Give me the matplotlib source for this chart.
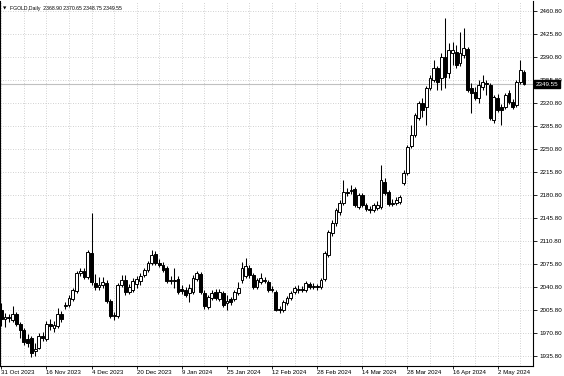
import matplotlib
matplotlib.use("Agg")
import matplotlib.pyplot as plt
import numpy as np
from matplotlib.transforms import blended_transform_factory

plt.rcParams['font.family'] = ['Liberation Sans', 'DejaVu Sans']

symbol = "FGOLD,Daily"

opens = [
    2005.5, 1991.7, 1994.8, 1990.2, 1999.4, 1984.1, 1975.0, 1961.3, 1962.8, 1943.0,
    1947.6, 1965.8, 1961.3, 1984.1, 1978.0, 1981.1, 1999.4, 2011.6, 2013.1, 2022.2,
    2034.4, 2061.9, 2064.9, 2055.8, 2092.4, 2046.6, 2040.5, 2043.6, 2046.6, 2019.2,
    1996.3, 1996.3, 2043.6, 2051.2, 2032.9, 2036.0, 2045.1, 2049.7, 2058.8, 2066.4,
    2077.1, 2090.8, 2077.1, 2074.1, 2069.5, 2049.7, 2051.2, 2052.7, 2037.5, 2036.0,
    2031.4, 2032.9, 2052.7, 2060.3, 2031.4, 2010.1, 2023.7, 2032.9, 2022.2, 2031.4,
    2016.1, 2022.2, 2022.2, 2031.4, 2051.2, 2057.3, 2069.5, 2058.8, 2040.5, 2048.2,
    2051.2, 2048.2, 2037.5, 2032.9, 2007.0, 2005.5, 2016.1, 2023.7, 2032.9, 2036.0,
    2037.5, 2036.0, 2045.1, 2040.5, 2042.1, 2040.5, 2052.7, 2089.3, 2122.8, 2138.1,
    2154.8, 2168.6, 2185.3, 2186.9, 2189.9, 2162.5, 2180.8, 2165.5, 2157.9, 2157.9,
    2161.0, 2162.5, 2200.6, 2185.3, 2167.1, 2168.6, 2170.1, 2199.0, 2214.3, 2255.4,
    2272.2, 2298.2, 2321.0, 2314.9, 2343.9, 2356.1, 2374.4, 2359.1, 2391.1, 2366.7,
    2397.2, 2398.7, 2382.0, 2394.2, 2403.3, 2343.9, 2337.8, 2328.6, 2345.4, 2351.5,
    2348.4, 2295.1, 2328.6, 2314.9, 2314.9, 2336.3, 2322.5, 2318.0, 2353.0, 2368.90,
]
highs = [
    2016.1, 2000.9, 1999.4, 2011.6, 2002.4, 1987.2, 1978.0, 1968.9, 1965.8, 1955.2,
    1970.4, 1971.9, 1988.7, 1991.7, 1988.7, 2008.5, 2003.9, 2017.7, 2028.3, 2039.0,
    2064.9, 2069.5, 2069.5, 2096.9, 2153.3, 2060.3, 2055.8, 2055.8, 2051.2, 2022.2,
    2002.4, 2046.6, 2058.8, 2058.8, 2045.1, 2054.2, 2057.3, 2061.9, 2069.5, 2080.1,
    2096.9, 2095.4, 2083.2, 2078.6, 2072.5, 2057.3, 2069.5, 2057.3, 2043.6, 2040.5,
    2045.1, 2058.8, 2064.9, 2063.4, 2036.0, 2028.3, 2036.0, 2037.5, 2037.5, 2034.4,
    2028.3, 2025.3, 2036.0, 2048.2, 2078.6, 2084.7, 2074.1, 2061.9, 2054.2, 2061.9,
    2055.8, 2051.2, 2042.1, 2036.0, 2011.6, 2020.7, 2026.8, 2034.4, 2042.1, 2043.6,
    2042.1, 2049.7, 2048.2, 2046.6, 2045.1, 2054.2, 2095.4, 2127.4, 2142.7, 2161.0,
    2173.2, 2203.6, 2191.4, 2196.0, 2193.0, 2183.8, 2183.8, 2168.6, 2164.0, 2168.6,
    2171.6, 2226.5, 2206.6, 2188.4, 2174.7, 2177.7, 2180.8, 2218.9, 2257.0, 2287.5,
    2305.8, 2324.1, 2328.6, 2346.9, 2363.7, 2386.6, 2377.4, 2397.2, 2450.6, 2412.0,
    2414.0, 2410.0, 2429.2, 2435.3, 2406.4, 2351.5, 2345.4, 2356.1, 2363.7, 2356.1,
    2351.5, 2333.2, 2334.7, 2319.5, 2336.3, 2340.8, 2327.1, 2356.1, 2386.6, 2370.65,
]
lows = [
    1981.1, 1979.6, 1987.2, 1987.2, 1981.1, 1962.8, 1952.1, 1949.1, 1933.8, 1935.3,
    1946.0, 1958.2, 1958.2, 1975.0, 1971.9, 1978.0, 1987.2, 2007.0, 2010.1, 2019.2,
    2031.4, 2057.3, 2052.7, 2052.7, 2043.6, 2036.0, 2036.0, 2039.0, 2016.1, 1993.3,
    1990.2, 1993.3, 2040.5, 2028.3, 2029.8, 2032.9, 2039.0, 2043.6, 2055.8, 2063.4,
    2074.1, 2074.1, 2071.0, 2063.4, 2046.6, 2045.1, 2039.0, 2029.8, 2029.8, 2025.3,
    2017.7, 2029.8, 2049.7, 2029.8, 2007.0, 2007.0, 2020.7, 2020.7, 2019.2, 2010.1,
    2005.5, 2013.1, 2019.2, 2028.3, 2046.6, 2054.2, 2054.2, 2037.5, 2037.5, 2045.1,
    2046.6, 2032.9, 2032.9, 2003.9, 2000.9, 2002.4, 2013.1, 2020.7, 2029.8, 2031.4,
    2032.9, 2032.9, 2037.5, 2037.5, 2036.0, 2037.5, 2049.7, 2086.3, 2118.3, 2133.5,
    2150.3, 2165.5, 2179.2, 2182.3, 2162.5, 2159.4, 2162.5, 2156.4, 2153.3, 2154.8,
    2157.9, 2159.4, 2180.8, 2164.0, 2164.0, 2165.5, 2167.1, 2196.0, 2211.2, 2252.4,
    2269.2, 2295.1, 2299.7, 2287.5, 2340.8, 2353.0, 2340.8, 2340.8, 2343.9, 2359.1,
    2378.9, 2374.4, 2377.4, 2389.6, 2337.8, 2305.8, 2325.6, 2321.0, 2340.8, 2333.2,
    2295.1, 2290.5, 2307.3, 2287.5, 2311.9, 2319.5, 2311.9, 2314.9, 2350.0, 2348.75,
]
closes = [
    1991.7, 1994.8, 1993.3, 1999.4, 1984.1, 1975.0, 1956.7, 1955.2, 1939.9, 1946.0,
    1965.8, 1962.8, 1984.1, 1981.1, 1982.6, 1999.4, 1991.7, 2013.1, 2023.7, 2036.0,
    2061.9, 2064.9, 2055.8, 2093.9, 2048.2, 2040.5, 2043.6, 2048.2, 2019.2, 1996.3,
    1997.8, 2043.6, 2051.2, 2032.9, 2040.5, 2049.7, 2052.7, 2057.3, 2066.4, 2077.1,
    2089.3, 2077.1, 2074.1, 2066.4, 2049.7, 2051.2, 2049.7, 2032.9, 2034.4, 2028.3,
    2039.0, 2054.2, 2061.9, 2032.9, 2011.6, 2025.3, 2031.4, 2023.7, 2032.9, 2013.1,
    2019.2, 2017.7, 2032.9, 2039.0, 2069.5, 2072.5, 2058.8, 2040.5, 2051.2, 2054.2,
    2049.7, 2036.0, 2036.0, 2005.5, 2005.5, 2017.7, 2023.7, 2031.4, 2039.0, 2037.5,
    2036.0, 2046.6, 2040.5, 2042.1, 2040.5, 2051.2, 2092.4, 2124.4, 2138.1, 2157.9,
    2168.6, 2185.3, 2183.8, 2188.4, 2165.5, 2180.8, 2165.5, 2159.4, 2159.4, 2165.5,
    2165.5, 2203.6, 2183.8, 2167.1, 2168.6, 2173.2, 2177.7, 2214.3, 2253.9, 2272.2,
    2302.7, 2321.0, 2310.4, 2343.9, 2359.1, 2374.4, 2353.0, 2391.1, 2360.6, 2401.8,
    2401.8, 2378.9, 2397.2, 2404.9, 2340.8, 2336.3, 2328.6, 2348.4, 2353.0, 2350.0,
    2298.2, 2330.2, 2310.4, 2310.4, 2333.2, 2322.5, 2314.9, 2353.0, 2371.3, 2349.55,
]

date_labels = ["31 Oct 2023", "16 Nov 2023", "4 Dec 2023", "20 Dec 2023",
               "9 Jan 2024", "25 Jan 2024", "12 Feb 2024", "28 Feb 2024",
               "14 Mar 2024", "28 Mar 2024", "16 Apr 2024", "2 May 2024"]
label_bars = [0, 12, 24, 36, 48, 60, 72, 84, 96, 108, 120, 132]
grid_bars = list(range(0, 142, 6))

price_ticks = [1935.80, 1970.80, 2005.80, 2040.80, 2075.80, 2110.80, 2145.80,
               2180.80, 2215.80, 2250.80, 2285.80, 2320.80, 2355.80, 2390.80,
               2425.80, 2460.80]

o = np.array(opens); h = np.array(highs); l = np.array(lows); c = np.array(closes)
x = np.arange(len(o))

W, H = 564, 376
fig = plt.figure(figsize=(W / 100, H / 100), dpi=100)
fig.patch.set_facecolor('white')
ax = fig.add_axes([0, 10 / H, 533 / W, 365 / H])
ax.set_facecolor('white')
ax.set_xlim(-0.346, 141.4)
ax.set_ylim(1920.1, 2476.5)

grid_kw = dict(color='#c2c2c2', lw=0.6, ls=(0, (1, 2)), zorder=0)
for v in price_ticks:
    ax.axhline(v, **grid_kw)
for b in grid_bars:
    ax.axvline(b, **grid_kw)

# bid line
ax.axhline(c[-1], color='#c0c0c0', lw=0.8, zorder=1)

# candles
ax.vlines(x, l, h, color='black', lw=0.75, zorder=2)
bottoms = np.minimum(o, c)
heights = np.maximum(np.abs(c - o), 0.4)
faces = ['white' if cc >= oo else 'black' for oo, cc in zip(o, c)]
ax.bar(x, heights, bottom=bottoms, width=0.75, color=faces,
       edgecolor='black', linewidth=0.7, zorder=3)

ax.spines['top'].set_visible(False)
for side in ['left', 'right', 'bottom']:
    ax.spines[side].set_color('black')
    ax.spines[side].set_linewidth(0.8)

ax.yaxis.tick_right()
ax.set_yticks(price_ticks)
ax.set_yticklabels([f"{v:.2f}" for v in price_ticks])
ax.tick_params(axis='y', direction='out', length=3, width=0.6, pad=1.5,
               labelsize=4.5, colors='black')

ax.set_xticks(label_bars)
ax.set_xticklabels(date_labels)
for t in ax.get_xticklabels():
    t.set_ha('left')
ax.tick_params(axis='x', direction='out', length=2.5, width=0.6, pad=0.3,
               labelsize=4.4, colors='black')

# current price box
btr = blended_transform_factory(ax.transAxes, ax.transData)
ax.text(1.0 + 3 / 533, c[-1], f"{c[-1]:.2f}", transform=btr, color='white',
        fontsize=4.5, va='center', ha='left', zorder=10, clip_on=False,
        bbox=dict(boxstyle='square,pad=0.25', facecolor='black', edgecolor='black'))

# header
ax.text(2.5 / 533, 1 - 7.5 / 365, "\u25BC", transform=ax.transAxes, fontsize=3.2,
        va='center', ha='left', family='DejaVu Sans', color='black')
ax.text(10 / 533, 1 - 7.5 / 365,
        f"{symbol}  {o[-1]:.2f} {h[-1]:.2f} {l[-1]:.2f} {c[-1]:.2f}",
        transform=ax.transAxes, fontsize=3.7, va='center', ha='left', color='black')

fig.savefig("out.png", dpi=100, facecolor='white')
